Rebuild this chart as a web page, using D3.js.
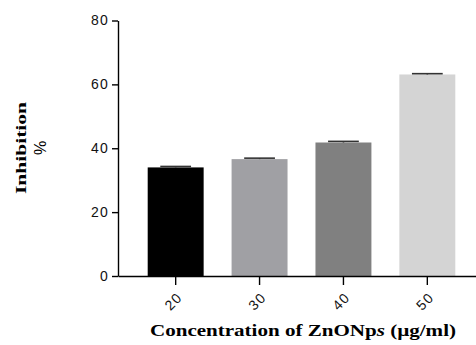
<!DOCTYPE html>
<meta charset="utf-8">
<style>
  body { margin: 0; background: #fff; }
  .tick text { font-family: "Liberation Sans", Arial, sans-serif; font-size: 14px; fill: #111; letter-spacing: 1.2px; }
  .ttl { font-family: "Liberation Serif", "DejaVu Serif", serif; font-weight: bold; fill: #000; }
</style>
<body>
<div id="chart"></div>
<script src="https://d3js.org/d3.v7.min.js"></script>
<script>
// data
const concentrations = ["20", "30", "40", "50"];
const inhibition = [34.0, 36.6, 41.8, 63.1];
const errors = [0.3, 0.3, 0.35, 0.25];
const barColors = ["#000000", "#a0a0a4", "#808080", "#d4d4d4"];
const yTicks = [0, 20, 40, 60, 80];

const W = 476, H = 345;

const svg = d3.select("#chart").append("svg")
    .attr("width", W)
    .attr("height", H);

const x = d3.scaleBand()
  .domain(concentrations)
  .range([118, 485])
  .paddingInner(0.333)
  .paddingOuter(0.354);

const y = d3.scaleLinear()
  .domain([0, 80])
  .range([276, 20.5]);

// bars
svg.selectAll("rect.bar")
  .data(concentrations)
  .join("rect")
    .attr("class", "bar")
    .attr("x", d => x(d))
    .attr("y", (d, i) => y(inhibition[i]))
    .attr("width", x.bandwidth())
    .attr("height", (d, i) => y(0) - y(inhibition[i]))
    .attr("fill", (d, i) => barColors[i]);

// error bars (upper part only shows)
const cap = x.bandwidth() * 0.55;
const eb = svg.append("g").attr("stroke", "#333").attr("stroke-width", 1.6);
concentrations.forEach((d, i) => {
  const cx = x(d) + x.bandwidth() / 2;
  eb.append("line")
    .attr("x1", cx).attr("x2", cx)
    .attr("y1", y(inhibition[i])).attr("y2", y(inhibition[i] + errors[i]));
  eb.append("line")
    .attr("x1", cx - cap / 2).attr("x2", cx + cap / 2)
    .attr("y1", y(inhibition[i] + errors[i])).attr("y2", y(inhibition[i] + errors[i]));
});

// y axis
const yAxis = svg.append("g")
  .attr("transform", "translate(118,0)")
  .call(d3.axisLeft(y).tickValues(yTicks).tickSize(6).tickSizeOuter(0).tickPadding(3));
yAxis.selectAll("path, line").attr("stroke", "#000").attr("stroke-width", 1.4);

// x axis
const xAxis = svg.append("g")
  .attr("transform", "translate(0,276)")
  .call(d3.axisBottom(x).tickSize(9).tickSizeOuter(0));
xAxis.selectAll("path, line").attr("stroke", "#000").attr("stroke-width", 1.4);
xAxis.selectAll(".tick text")
  .attr("text-anchor", "end")
  .attr("y", 0)
  .attr("dy", "0.35em")
  .attr("transform", "translate(4,19) rotate(-45)");

// axis titles
const yl = svg.append("text")
  .attr("class", "ttl")
  .attr("transform", "translate(26,148) rotate(-90)")
  .attr("text-anchor", "middle")
  .style("font-size", "14px");
yl.append("tspan").attr("x", 0).attr("dy", 0)
  .attr("textLength", 92).attr("lengthAdjust", "spacingAndGlyphs")
  .text("Inhibition");
yl.append("tspan").attr("x", 0).attr("dy", 20)
  .style("font-weight", "normal")
  .style("font-family", "Liberation Sans, Arial, sans-serif")
  .style("font-size", "16px")
  .text("%");

const xl = svg.append("text")
  .attr("class", "ttl")
  .attr("x", 150)
  .attr("y", 336)
  .attr("textLength", 306)
  .attr("lengthAdjust", "spacingAndGlyphs")
  .style("font-size", "17px");
xl.append("tspan").text("Concentration of ZnONp");
xl.append("tspan").style("font-style", "italic").text("s");
xl.append("tspan").text(" (\u00b5g/ml)");
</script>
</body>
